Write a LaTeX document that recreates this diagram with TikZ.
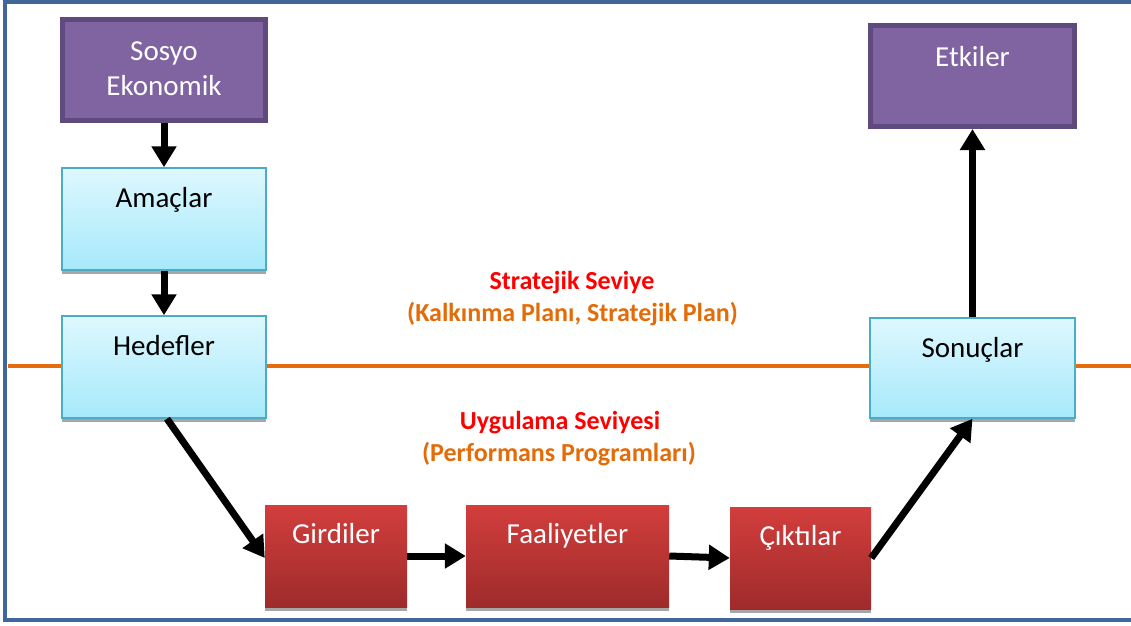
\documentclass[tikz,border=0pt]{standalone}
\usepackage{fontspec}
\setmainfont{Carlito}
\usetikzlibrary{arrows.meta,shadows}
\definecolor{frameblue}{HTML}{41679A}
\definecolor{lineorange}{HTML}{E46C0A}
\definecolor{purplefill}{HTML}{8064A2}
\definecolor{purpledark}{HTML}{5F4A7E}
\definecolor{cyantop}{HTML}{DEF8FE}
\definecolor{cyanbot}{HTML}{A6E9FB}
\definecolor{cyanedge}{HTML}{4BACC6}
\definecolor{redtop}{HTML}{D23E3C}
\definecolor{redbot}{HTML}{9E2B2B}
\definecolor{titlered}{HTML}{FF0000}
\definecolor{subor}{HTML}{E36C09}
\begin{document}
\begin{tikzpicture}[x=1pt,y=-1pt,
  boxtext/.style={inner sep=0pt, align=center, font=\fontsize{29}{35}\selectfont},
  purplebox/.style={boxtext, draw=purpledark, line width=5pt, fill=purplefill, text=white,
    minimum width=203pt, minimum height=101pt, text width=203pt, text height=40.5pt, text depth=60.5pt},
  cyanbox/.style={boxtext, draw=cyanedge, line width=1.5pt, top color=cyantop, bottom color=cyanbot, text=black,
    minimum width=204pt, minimum height=102pt, text width=204pt, text height=39pt, text depth=63pt,
    drop shadow={shadow xshift=0pt,shadow yshift=-4pt,fill=black!35,opacity=1}},
  redbox/.style={boxtext, top color=redtop, bottom color=redbot, text=white,
    minimum height=102pt, text height=38pt, text depth=64pt,
    drop shadow={shadow xshift=0pt,shadow yshift=-4pt,fill=black!35,opacity=1}},
  arr/.style={line width=7pt, -{Triangle[width=24pt,length=21pt]}},
  leveltitle/.style={anchor=base, text=titlered, font=\bfseries\fontsize{26}{30}\selectfont},
  levelsub/.style={anchor=base, text=subor, font=\bfseries\fontsize{26}{30}\selectfont}
]
\useasboundingbox (0,0) rectangle (1131,625);
\fill[white] (0,0) rectangle (1131,625);
% frame
\draw[frameblue, line width=4pt] (1131,2) -- (5,2) -- (5,620) -- (1131,620);
% level separator
\draw[lineorange, line width=4pt] (8,366) -- (1131,366);

% boxes
\node[purplebox] (sos) at (164,70) {Sosyo\\Ekonomik};
\node[cyanbox] (ama) at (164,219) {Amaçlar};
\node[cyanbox] (hed) at (164,367) {Hedefler};
\node[redbox, minimum width=142pt, text width=142pt] (gir) at (336,556) {Girdiler};
\node[redbox, minimum width=203pt, text width=203pt] (faa) at (567.5,556) {Faaliyetler};
\node[redbox, minimum width=141pt, text width=141pt] (cik) at (800.5,558) {Çıktılar};
\node[cyanbox, minimum width=205pt, minimum height=100pt, text width=205pt, text depth=61pt] (son) at (972.5,368) {Sonuçlar};
\node[purplebox, minimum width=204pt, text width=204pt] (etk) at (972.5,76) {Etkiler};

% level labels
\node[leveltitle] (st1) at (572,289) {Stratejik Seviye};
\node[levelsub] (st2) at (572.5,321) {(Kalkınma Planı, Stratejik Plan)};
\node[leveltitle] (uy1) at (560,429) {Uygulama Seviyesi};
\node[levelsub] (uy2) at (559,461) {(Performans Programları)};

% connectors
\draw[arr] (sos.south) -- (ama.north);
\draw[arr] (ama.south) -- (hed.north);
\draw[arr] ([xshift=3pt]hed.south) -- ([yshift=-2pt]gir.west);
\draw[arr] (gir.east) -- (faa.west);
\draw[arr] (faa.east) -- (cik.west);
\draw[arr] (cik.east) -- (son.south);
\draw[arr] (son.north) -- (etk.south);
\end{tikzpicture}
\end{document}
